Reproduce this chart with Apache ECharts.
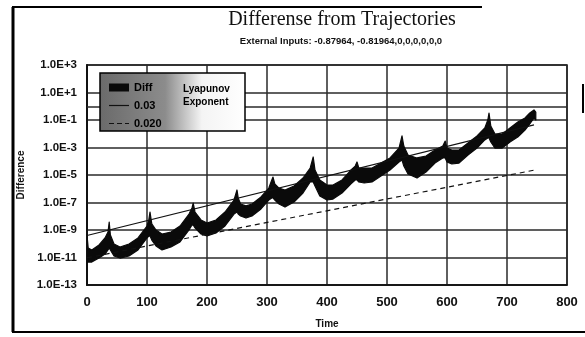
<!DOCTYPE html>
<html>
<head>
<meta charset="utf-8">
<script src="https://cdn.jsdelivr.net/npm/echarts@6/dist/echarts.min.js"></script>
<style>
html,body{margin:0;padding:0;background:#fff;}
#chart{width:585px;height:337px;}
</style>
</head>
<body>
<div id="chart"></div>
<script>
// ---- data (log10 of the difference) ----
var timeSteps = [0,2,8,20,30,35,37,39,45,55,70,85,100,103,105,108,115,125,140,155,170,175,177,180,190,200,215,230,245,250,252,256,265,275,290,303,308,310,313,320,330,345,360,372,377,380,388,400,410,425,440,447,450,453,462,475,490,505,520,525,528,535,550,565,580,593,597,600,608,620,635,650,663,668,670,673,680,692,705,718,730,738,745,748];
var log10DiffUpper = [-9.36,-10.31,-10.45,-10.09,-9.58,-9.15,-8.42,-9.36,-10.02,-10.24,-10.02,-9.58,-8.71,-8.27,-7.69,-8.56,-9.0,-9.29,-9.15,-8.71,-7.84,-7.4,-7.04,-7.69,-8.27,-8.49,-8.27,-7.69,-6.82,-6.09,-6.67,-7.11,-7.25,-7.11,-6.6,-5.95,-5.36,-5.15,-5.65,-5.95,-6.09,-5.8,-5.22,-4.49,-3.69,-4.64,-5.36,-5.73,-5.73,-5.36,-4.64,-4.35,-4.05,-4.49,-4.49,-4.49,-4.13,-3.76,-3.04,-2.16,-2.89,-3.55,-3.76,-3.62,-3.18,-2.89,-2.53,-3.04,-3.18,-3.18,-2.67,-2.16,-1.58,-1.0,-0.49,-1.44,-2.02,-2.02,-1.58,-1.15,-0.85,-0.49,-0.27,-0.42];
var log10DiffLower = [-11.33,-11.33,-11.33,-11.04,-10.75,-10.45,-10.31,-10.45,-10.89,-11.04,-10.89,-10.45,-9.58,-9.44,-9.44,-9.73,-10.16,-10.45,-10.24,-9.87,-9.0,-8.64,-8.64,-8.85,-9.29,-9.44,-9.22,-8.71,-7.84,-7.69,-7.84,-7.98,-8.13,-7.98,-7.47,-6.82,-6.67,-6.67,-6.82,-7.11,-7.33,-6.96,-6.31,-5.51,-5.51,-5.8,-6.53,-6.82,-6.75,-6.31,-5.65,-5.36,-5.36,-5.51,-5.58,-5.51,-5.07,-4.64,-4.05,-3.91,-4.35,-4.93,-5.22,-4.78,-4.13,-3.76,-3.76,-4.05,-4.2,-4.13,-3.55,-3.04,-2.45,-2.31,-2.31,-2.6,-3.04,-3.04,-2.6,-2.24,-1.73,-1.29,-0.85,-1.0];
var fitTimes = [0, 745];
var log10FitSteep = [-9.4, -1.36];     // "0.03"
var log10FitShallow = [-11.02, -4.65]; // "0.020"
var log10RefLevel = 0;                 // horizontal line at 1.0E+0
var seriesNames = ['Diff', '0.03', '0.020'];
var xTicks = [0,100,200,300,400,500,600,700,800];

// axis works on (exponent - yMinExp) so ticks start at 0
var yMinExp = -13, yMaxExp = 3;
function ax(e){ return e - yMinExp; }

var bandData = timeSteps.map(function(t,i){ return [t, ax(log10DiffUpper[i]), ax(log10DiffLower[i])]; });
var steepPts = fitTimes.map(function(t,i){ return [t, ax(log10FitSteep[i])]; });
var shallowPts = fitTimes.map(function(t,i){ return [t, ax(log10FitShallow[i])]; });

function renderBand(params, api){
  if (params.dataIndex !== 0) return null;
  var pts = [], i;
  for (i = 0; i < bandData.length; i++) pts.push(api.coord([bandData[i][0], bandData[i][1]]));
  for (i = bandData.length - 1; i >= 0; i--) pts.push(api.coord([bandData[i][0], bandData[i][2]]));
  return {type: 'polygon', shape: {points: pts},
          style: {fill: '#0a0a0a', stroke: '#0a0a0a', lineWidth: 1.2, lineJoin: 'round'}};
}

var chart = echarts.init(document.getElementById('chart'), null, {renderer:'canvas'});
var gridColor = '#2a2a2a';
var txt = 'Liberation Sans, Arial';
var option = {
  animation: false,
  backgroundColor: '#fff',
  grid: {left: 87, top: 65, right: 18, bottom: 52, show: true, borderColor: '#111', borderWidth: 1.5, backgroundColor: 'transparent'},
  xAxis: {
    type: 'value', min: xTicks[0], max: xTicks[xTicks.length-1], interval: 100,
    axisLine: {show: true, lineStyle: {color: '#111', width: 1.5}},
    axisTick: {show: false},
    splitLine: {show: true, lineStyle: {color: gridColor, width: 1.5}},
    axisLabel: {margin: 11, color: '#111', fontFamily: txt, fontWeight: 'bold', fontSize: 13},
    name: 'Time', nameLocation: 'middle', nameGap: 34,
    nameTextStyle: {color: '#111', fontFamily: txt, fontWeight: 'bold', fontSize: 10}
  },
  yAxis: {
    type: 'value', min: 0, max: yMaxExp - yMinExp, interval: 2,
    axisLine: {show: true, lineStyle: {color: '#111', width: 2}},
    axisTick: {show: false},
    splitLine: {show: true, lineStyle: {color: gridColor, width: 1.5}},
    axisLabel: {margin: 10, color: '#111', fontFamily: txt, fontWeight: 'bold', fontSize: 11.5,
      formatter: function(v){ var e = Math.round(v + yMinExp); return '1.0E' + (e >= 0 ? '+' : '-') + Math.abs(e); }},
    name: 'Difference', nameLocation: 'middle', nameGap: 60, nameRotate: 90,
    nameTextStyle: {color: '#111', fontFamily: txt, fontWeight: 'bold', fontSize: 10}
  },
  legend: {
    show: true, orient: 'vertical', left: 104, top: 77, z: 120,
    itemWidth: 20, itemHeight: 8, itemGap: 7,
    data: [
      {name: seriesNames[0], icon: 'path://M0,0 L20,0 L20,8 L0,8 Z'},
      {name: seriesNames[1], icon: 'path://M0,3.4 L20,3.4 L20,4.6 L0,4.6 Z'},
      {name: seriesNames[2], icon: 'path://M0,3.4 L5,3.4 L5,4.6 L0,4.6 Z M8,3.4 L13,3.4 L13,4.6 L8,4.6 Z M16,3.4 L20,3.4 L20,4.6 L16,4.6 Z'}
    ],
    textStyle: {color: '#000', fontFamily: txt, fontWeight: 'bold', fontSize: 11}
  },
  graphic: [
    {type: 'rect', z: 110, shape: {x: 100, y: 73, width: 145, height: 58},
     style: {fill: new echarts.graphic.LinearGradient(0,0,1,0,[{offset:0,color:'#6a6a6a'},{offset:0.45,color:'#8c8c8c'},{offset:0.7,color:'#f4f4f4'},{offset:1,color:'#fff'}]),
             stroke: '#000', lineWidth: 1.5}},
    {type: 'text', z: 121, left: 183, top: 83, style: {text: 'Lyapunov\nExponent', fill: '#000', font: 'bold 10px Liberation Sans, Arial', lineHeight: 13}},
    {type: 'text', z: 121, x: 342, y: 20, style: {text: 'Differense from Trajectories', fill: '#111', font: '20px Liberation Serif, Times New Roman', textAlign: 'center', textVerticalAlign: 'middle'}},
    {type: 'text', z: 121, x: 341, y: 41, style: {text: 'External Inputs: -0.87964, -0.81964,0,0,0,0,0,0', fill: '#111', font: 'bold 9.5px Liberation Sans Narrow, Arial Narrow, Liberation Sans', textAlign: 'center', textVerticalAlign: 'middle'}},
    {type: 'line', z: 121, shape: {x1: 13, y1: 7, x2: 13, y2: 332}, style: {stroke: '#000', lineWidth: 3}},
    {type: 'line', z: 121, shape: {x1: 12, y1: 7, x2: 482, y2: 7}, style: {stroke: '#000', lineWidth: 2}},
    {type: 'line', z: 121, shape: {x1: 12, y1: 332, x2: 585, y2: 332}, style: {stroke: '#000', lineWidth: 2}},
    {type: 'line', z: 121, shape: {x1: 583, y1: 84, x2: 583, y2: 113}, style: {stroke: '#000', lineWidth: 2}}
  ],
  series: [
    {name: seriesNames[0], type: 'custom', renderItem: renderBand, data: bandData,
     encode: {x: 0, y: [1, 2]}, itemStyle: {color: '#0a0a0a'}, z: 4, clip: true,
     markLine: {silent: true, symbol: 'none', label: {show: false},
       lineStyle: {color: gridColor, width: 1.5, type: 'solid'}, data: [{yAxis: ax(log10RefLevel)}]}},
    {name: seriesNames[1], type: 'line', data: steepPts, symbol: 'none', z: 5,
     lineStyle: {color: '#111', width: 1.2}, itemStyle: {color: '#111'}},
    {name: seriesNames[2], type: 'line', data: shallowPts, symbol: 'none', z: 5,
     lineStyle: {color: '#111', width: 1.2, type: [5, 4]}, itemStyle: {color: '#111'}}
  ]
};
chart.setOption(option);
</script>
</body>
</html>
